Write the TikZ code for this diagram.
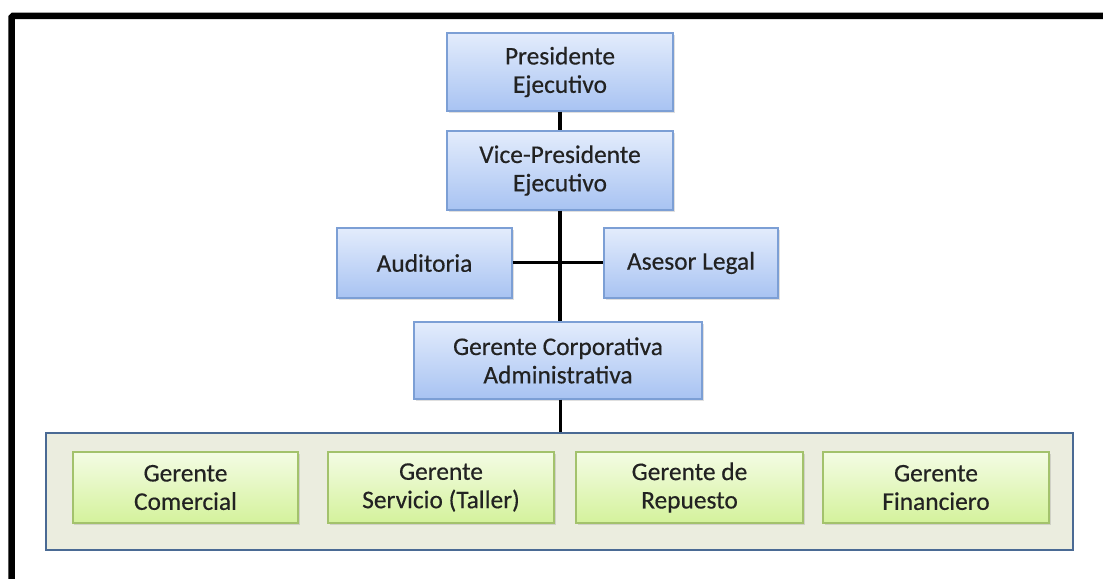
\documentclass[tikz,border=0pt]{standalone}
\usepackage{fontspec}
\setmainfont{Carlito}
\newfontfamily\boxfont{Carlito}[FakeBold=0.4]
\usetikzlibrary{shadows}
\definecolor{txt}{HTML}{222222}
\definecolor{bluetop}{HTML}{E3ECFC}
\definecolor{bluebot}{HTML}{A8C3F2}
\definecolor{blueline}{HTML}{7C9FD5}
\definecolor{greentop}{HTML}{F4FCE4}
\definecolor{greenbot}{HTML}{D4F29C}
\definecolor{greenline}{HTML}{A3C26C}
\definecolor{contfill}{HTML}{EBEDDF}
\definecolor{contline}{HTML}{4A6A94}
\tikzset{
  boxbase/.style={rectangle, inner sep=0pt, align=center, text=txt,
    font=\boxfont\fontsize{25.5}{28.5}\selectfont,
    drop shadow={opacity=0.25, shadow xshift=1.5bp, shadow yshift=-2bp}},
  bluebox/.style={boxbase, top color=bluetop, bottom color=bluebot,
    draw=blueline, line width=1.3bp},
  greenbox/.style={boxbase, top color=greentop, bottom color=greenbot,
    draw=greenline, line width=1.3bp},
  container/.style={rectangle, inner sep=0pt, fill=contfill, draw=contline,
    line width=2.2bp},
  conn/.style={draw=black, line width=4bp},
  connthin/.style={draw=black, line width=3bp}
}
\begin{document}
\begin{tikzpicture}[x=1bp,y=-1bp]
\useasboundingbox (0,0) rectangle (1103,579);
\clip (0,0) rectangle (1103,579);
\fill[white] (0,0) rectangle (1103,579);
% outer frame
\draw[line width=6.5bp, rounded corners=1.5bp] (11.5,16) rectangle (1115,595);

% container
\node[container, minimum width=1027bp, minimum height=117bp] (cont) at (559.5,491.5) {};

% blue boxes
\node[bluebox, minimum width=226bp, minimum height=78bp] (pres) at (560,72) {Presidente\\Ejecutivo};
\node[bluebox, minimum width=226bp, minimum height=79bp] (vp) at (560,170.5) {Vice-Presidente\\Ejecutivo};
\node[bluebox, minimum width=175bp, minimum height=70bp] (aud) at (424.5,263) {Auditoria};
\node[bluebox, minimum width=174bp, minimum height=70bp] (ase) at (691,263) {Asesor Legal};
\node[bluebox, minimum width=288bp, minimum height=77bp] (gc) at (558,360.5) {Gerente Corporativa\\Administrativa};

% green boxes
\node[greenbox, minimum width=225bp, minimum height=71bp] (com) at (185.5,487.5) {Gerente\\Comercial};
\node[greenbox, minimum width=226bp, minimum height=71bp] (ser) at (441,487.5) {Gerente\\Servicio (Taller)};
\node[greenbox, minimum width=227bp, minimum height=71bp] (rep) at (689.5,487.5) {Gerente de\\Repuesto};
\node[greenbox, minimum width=226bp, minimum height=71bp] (fin) at (936,487.5) {Gerente\\Financiero};

% connectors
\draw[conn] (pres.south) -- (vp.north);
\draw[conn] (vp.south) -- (vp.south |- gc.north);
\draw[connthin] (aud.east) -- (ase.west);
\draw[connthin] ([xshift=2bp]gc.south) -- ([xshift=2bp]gc.south |- cont.north);
\end{tikzpicture}
\end{document}
